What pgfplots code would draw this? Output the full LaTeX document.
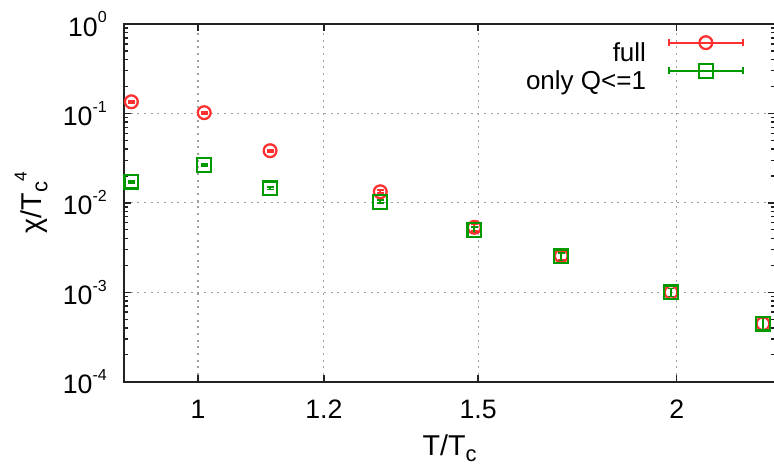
\documentclass[border=0pt]{standalone}
\usepackage{fontspec}
\setmainfont{Liberation Sans}
\usepackage{pgfplots}
\pgfplotsset{compat=1.18}
\usepackage{pgfplotstable}

\definecolor{fullred}{RGB}{255,48,48}
\definecolor{qgreen}{RGB}{0,154,0}
\definecolor{gridgray}{RGB}{160,160,160}
\definecolor{framegray}{RGB}{34,34,34}

% gnuplot-like raised / lowered scripts
\newcommand\sups[1]{\raisebox{10pt}{\fontsize{12}{12}\selectfont #1}}
\newcommand\labsub[1]{\raisebox{-4.5pt}{\fontsize{16.5}{16.5}\selectfont #1}}
\newcommand\labsup[1]{\raisebox{11pt}{\fontsize{13}{13}\selectfont #1}}

% T/Tc, chi/Tc^4, error
\pgfplotstableread{
T      chi       err
0.908  0.135     0.0035
1.009  0.102     0.0026
1.110  0.0383    0.0010
1.302  0.0133    0.0005
1.492  0.00533   0.0005
1.692  0.00255   0.00025
1.984  0.00100   0.0001
2.266  0.000446  0.000065
}\fulldata

\pgfplotstableread{
T      chi       err
0.908  0.01725   0.00045
1.009  0.0265    0.0007
1.110  0.01455   0.0004
1.302  0.0103    0.0004
1.492  0.00497   0.0004
1.692  0.00252   0.00025
1.984  0.00100   0.0001
2.266  0.000446  0.000065
}\qdata

\begin{document}
\begin{tikzpicture}
\begin{axis}[
  scale only axis,
  width=488.3pt, height=268.3pt,
  xmode=log, ymode=log,
  xmin=0.8984, xmax=2.306,
  ymin=1e-4, ymax=1,
  axis line style={framegray, line width=1.5pt},
  every tick/.style={framegray, line width=1pt},
  major tick length=5.25pt,
  minor tick length=3pt,
  grid=major,
  major grid style={gridgray, line width=0.8pt, dash pattern=on 1.5pt off 3.5pt},
  xtick={1,1.2,1.5,2},
  xticklabels={1,1.2,1.5,2},
  minor xtick={},
  ytick={1e-4,1e-3,1e-2,1e-1,1},
  yticklabels={10\sups{-4},10\sups{-3},10\sups{-2},10\sups{-1},10\sups{0}},
  minor ytick={2e-4,3e-4,4e-4,5e-4,6e-4,7e-4,8e-4,9e-4,
               2e-3,3e-3,4e-3,5e-3,6e-3,7e-3,8e-3,9e-3,
               2e-2,3e-2,4e-2,5e-2,6e-2,7e-2,8e-2,9e-2,
               0.2,0.3,0.4,0.5,0.6,0.7,0.8,0.9},
  tick label style={font=\fontsize{20}{24}\selectfont, inner sep=0pt},
  yticklabel style={anchor=east, xshift=-12.75pt},
  xticklabel style={anchor=north, yshift=-13.7pt},
  xlabel={T/T\labsub{c}},
  ylabel={χ/T\labsub{c}\labsup{4}},
  label style={font=\fontsize{21.5}{26}\selectfont, inner sep=0pt},
  xlabel style={at={(axis description cs:0.5,0)}, anchor=north, yshift=-39.5pt},
  ylabel style={at={(axis description cs:-0.1169,0.5)}, anchor=south, rotate=0},
  legend plot pos=right,
  legend cell align=right,
  legend style={at={(axis description cs:1,1)}, anchor=north east,
    xshift=-23.3pt, yshift=-9pt, draw=none, fill=none,
    inner sep=0pt, nodes={inner sep=0pt}, column sep=16.5pt, row sep=0.4pt,
    font=\fontsize{19.5}{23}\selectfont},
  legend image code/.code={
    \draw[#1, mark=none, line width=1.3pt] (0pt,7.8pt) -- (55.5pt,7.8pt);
    \draw[#1, mark=none, line width=1.3pt] (0pt,5.2pt) -- (0pt,10.4pt)
        (55.5pt,5.2pt) -- (55.5pt,10.4pt);
    \draw[#1, line width=1.7pt] plot coordinates {(27.75pt,7.8pt)};
  },
]
\addplot[fullred, line width=1.7pt, only marks, mark=o, mark size=4.8pt,
  mark options={line width=1.7pt},
  error bars/.cd, y dir=both, y explicit,
  error bar style={line width=1.3pt},
  error mark options={rotate=90, line width=1.3pt, mark size=2.6pt}]
  table[x=T, y=chi, y error=err] {\fulldata};
\addlegendentry{full}
\addplot[qgreen, line width=1.7pt, only marks, mark=square, mark size=5.2pt,
  mark options={line width=1.7pt},
  error bars/.cd, y dir=both, y explicit,
  error bar style={line width=1.3pt},
  error mark options={rotate=90, line width=1.3pt, mark size=2.6pt}]
  table[x=T, y=chi, y error=err] {\qdata};
\addlegendentry{only Q<=1}
\end{axis}
\pgfresetboundingbox
\path[use as bounding box]
  ([xshift=-93pt,yshift=-61.7pt]current axis.south west)
  rectangle ([xshift=-0.8pt,yshift=18pt]current axis.north east);
\end{tikzpicture}
\end{document}
